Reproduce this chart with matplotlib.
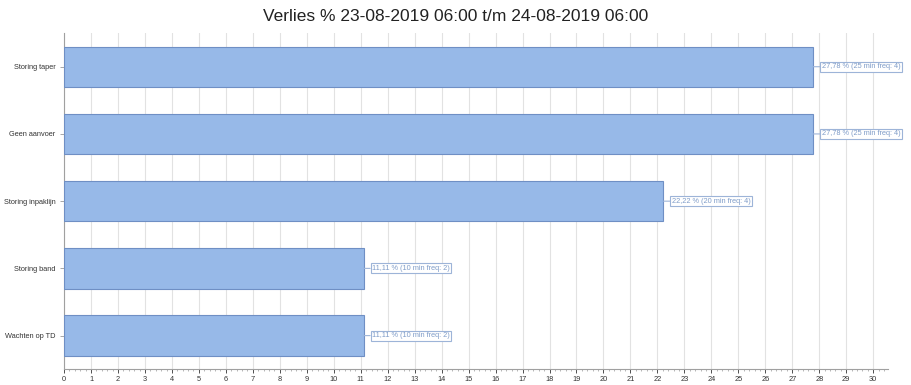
import matplotlib
matplotlib.use("Agg")
from matplotlib import pyplot as plt
from matplotlib.ticker import MultipleLocator

categories = ["Storing taper", "Geen aanvoer", "Storing inpaklijn", "Storing band", "Wachten op TD"]
percent = [27.78, 27.78, 22.22, 11.11, 11.11]
minutes = [25, 25, 20, 10, 10]
freq = [4, 4, 4, 2, 2]

bar_color = "#97b9e8"
edge_color = "#6f8fc4"
label_color = "#7f9cc8"

plt.rcParams["font.family"] = ["Liberation Sans", "DejaVu Sans"]

fig = plt.figure(figsize=(9.12, 3.85), dpi=100)
ax = fig.add_axes([0.0702, 0.041, 0.9035, 0.873])

ypos = list(range(len(categories)))
ax.barh(ypos, percent, height=0.6, color=bar_color, edgecolor=edge_color, linewidth=0.8, zorder=3)

for y, p, m, f in zip(ypos, percent, minutes, freq):
    txt = f"{p:.2f}".replace(".", ",") + f" % ({m} min freq: {f})"
    ax.annotate(txt, xy=(p, y), xytext=(6, 0), textcoords="offset points",
                va="center", ha="left", fontsize=5.3, color=label_color,
                bbox=dict(boxstyle="square,pad=0.2", fc="white", ec="#9db4d8", lw=0.8),
                arrowprops=dict(arrowstyle="-", color="#9db4d8", lw=0.8, shrinkA=0, shrinkB=0),
                zorder=4)

ax.set_ylim(len(categories) - 0.5, -0.5)
ax.set_xlim(0, 30.55)
ax.set_yticks(ypos)
ax.set_yticklabels(categories, fontsize=5.3, color="#333333")
ax.xaxis.set_major_locator(MultipleLocator(1))
ax.xaxis.set_minor_locator(MultipleLocator(0.2))
ax.tick_params(axis="x", labelsize=5.3, colors="#333333", length=3, width=0.6, pad=2)
ax.tick_params(axis="x", which="minor", length=1.5, width=0.5, color="#999999")
ax.tick_params(axis="y", length=3, width=0.6, color="#999999", pad=3)
ax.grid(axis="x", color="#e2e2e2", linewidth=0.8, zorder=0)
for s in ["top", "right"]:
    ax.spines[s].set_visible(False)
for s in ["left", "bottom"]:
    ax.spines[s].set_color("#a0a0a0")
    ax.spines[s].set_linewidth(0.8)

fig.text(0.5, 0.958, "Verlies % 23-08-2019 06:00 t/m 24-08-2019 06:00",
         ha="center", va="center", fontsize=12.5, color="#222222")

fig.savefig("out.png", dpi=100)
